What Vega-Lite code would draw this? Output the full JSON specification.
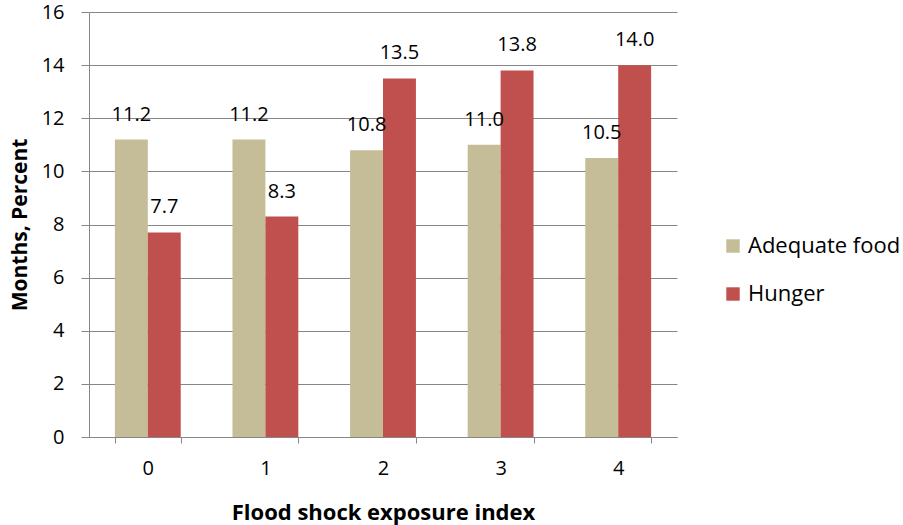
{
  "$schema": "https://vega.github.io/schema/vega-lite/v6.json",
  "autosize": "none",
  "padding": {"left": 89, "top": 12, "right": 226, "bottom": 88},
  "width": 588,
  "height": 425,
  "background": "white",
  "config": {
    "font": "Open Sans",
    "view": {"stroke": null}
  },
  "data": {
    "values": [
      {"index": "0", "series": "Adequate food", "value": 11.2},
      {"index": "0", "series": "Hunger", "value": 7.7},
      {"index": "1", "series": "Adequate food", "value": 11.2},
      {"index": "1", "series": "Hunger", "value": 8.3},
      {"index": "2", "series": "Adequate food", "value": 10.8},
      {"index": "2", "series": "Hunger", "value": 13.5},
      {"index": "3", "series": "Adequate food", "value": 11.0},
      {"index": "3", "series": "Hunger", "value": 13.8},
      {"index": "4", "series": "Adequate food", "value": 10.5},
      {"index": "4", "series": "Hunger", "value": 14.0}
    ]
  },
  "encoding": {
    "x": {
      "field": "index",
      "type": "nominal",
      "scale": {"paddingInner": 0.44, "paddingOuter": 0.22},
      "axis": {
        "title": "Flood shock exposure index",
        "titleFontSize": 22,
        "titleFontWeight": "bold",
        "titleColor": "#000000",
        "titlePadding": 24,
        "labelAngle": 0,
        "labelFontSize": 20,
        "labelColor": "#000000",
        "labelPadding": 15,
        "tickBand": "extent",
        "tickSize": 6,
        "tickColor": "#868686",
        "domainColor": "#868686",
        "grid": false
      }
    },
    "xOffset": {"field": "series", "type": "nominal", "scale": {"paddingInner": 0, "paddingOuter": 0}},
    "y": {
      "field": "value",
      "type": "quantitative",
      "scale": {"domain": [0, 16]},
      "axis": {
        "title": "Months, Percent",
        "titleFontSize": 21,
        "titleFontWeight": "bold",
        "titleColor": "#000000",
        "titlePadding": 11,
        "values": [0, 2, 4, 6, 8, 10, 12, 14, 16],
        "labelFontSize": 20,
        "labelColor": "#000000",
        "labelPadding": 17,
        "tickSize": 8,
        "tickColor": "#868686",
        "domainColor": "#868686",
        "gridColor": "#868686",
        "gridWidth": 1
      }
    }
  },
  "layer": [
    {
      "mark": {"type": "bar"},
      "encoding": {
        "color": {
          "field": "series",
          "type": "nominal",
          "scale": {"domain": ["Adequate food", "Hunger"], "range": ["#C4BD97", "#C0504D"]},
          "legend": {
            "title": null,
            "orient": "none",
            "legendX": 633,
            "legendY": 223,
            "symbolType": "square",
            "symbolSize": 180,
            "symbolStrokeWidth": 0,
            "labelFontSize": 22,
            "labelColor": "#000000",
            "labelOffset": 4,
            "rowPadding": 26,
            "padding": 0
          }
        }
      }
    },
    {
      "mark": {"type": "text", "baseline": "middle", "dy": -25, "fontSize": 20, "color": "#000000"},
      "encoding": {
        "text": {"field": "value", "type": "quantitative", "format": ".1f"}
      }
    }
  ]
}
